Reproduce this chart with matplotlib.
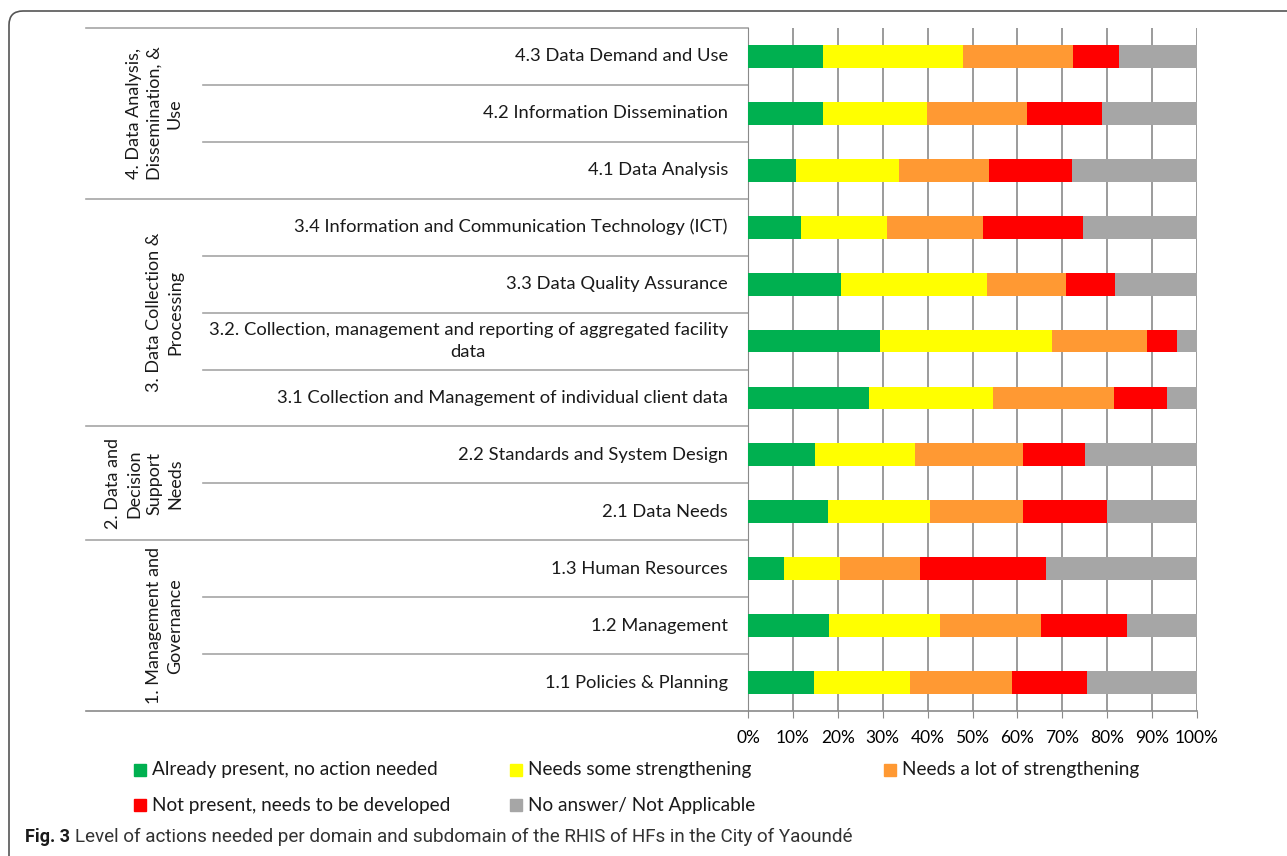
import matplotlib
matplotlib.use('Agg')
import matplotlib.pyplot as plt
import matplotlib.transforms as mtransforms
from matplotlib.patches import FancyBboxPatch, Rectangle
import numpy as np

plt.rcParams['font.family'] = ['Lato', 'DejaVu Sans']

# Subdomains listed from bottom to top
subdomains = [
    '1.1 Policies & Planning',
    '1.2 Management',
    '1.3 Human Resources',
    '2.1 Data Needs',
    '2.2 Standards and System Design',
    '3.1 Collection and Management of individual client data',
    '3.2. Collection, management and reporting of aggregated facility\ndata',
    '3.3 Data Quality Assurance',
    '3.4 Information and Communication Technology (ICT)',
    '4.1 Data Analysis',
    '4.2 Information Dissemination',
    '4.3 Data Demand and Use',
]
domains = [
    '1. Management and\nGovernance',
    '2. Data and\nDecision\nSupport\nNeeds',
    '3. Data Collection &\nProcessing',
    '4. Data Analysis,\nDissemination, &\nUse',
]
domain_sizes = [3, 2, 4, 3]

already_present = [14.7, 18.1, 8.1, 17.9, 14.9, 26.9, 29.5, 20.7, 11.7, 10.6, 16.6, 16.7]
some_strengthening = [21.4, 24.6, 12.5, 22.6, 22.2, 27.6, 38.1, 32.5, 19.2, 23.1, 23.3, 31.1]
lot_strengthening = [22.7, 22.6, 17.7, 20.7, 24.2, 27.1, 21.3, 17.7, 21.4, 19.9, 22.2, 24.5]
not_present = [16.7, 19.2, 28.1, 18.7, 13.7, 11.7, 6.7, 10.8, 22.3, 18.5, 16.7, 10.3]
no_answer = [24.5, 15.5, 33.6, 20.1, 25.0, 6.7, 4.4, 18.3, 25.4, 27.9, 21.2, 17.4]

series = [already_present, some_strengthening, lot_strengthening, not_present, no_answer]
series_names = ['Already present, no action needed', 'Needs some strengthening',
                'Needs a lot of strengthening', 'Not present, needs to be developed',
                'No answer/ Not Applicable']
colors = ['#00B050', '#FFFF00', '#FF9933', '#FF0000', '#A6A6A6']

W, H = 1287, 856
fig = plt.figure(figsize=(W / 100, H / 100), dpi=100)
ax = fig.add_axes([748 / W, (H - 711) / H, 449 / W, 683 / H])

y = np.arange(len(subdomains))
left = np.zeros(len(subdomains))
for vals, c in zip(series, colors):
    ax.barh(y, vals, left=left, height=0.4, color=c, zorder=3)
    left += np.array(vals)

ax.set_xlim(0, 100)
ax.set_ylim(-0.5, len(subdomains) - 0.5)
ax.set_xticks(np.arange(0, 101, 10))
ax.set_xticklabels([f'{v}%' for v in range(0, 101, 10)], fontsize=12.5)
ax.set_yticks([])
ax.grid(axis='x', color='#8a8a8a', linewidth=1.2, zorder=0)
ax.tick_params(axis='x', length=5, color='#8a8a8a', pad=9)
for s in ['top', 'right']:
    ax.spines[s].set_visible(False)
ax.spines['left'].set_color('#8a8a8a')
ax.spines['bottom'].set_visible(False)

blend = mtransforms.blended_transform_factory(fig.transFigure, ax.transData)

# bottom axis line extends under label area
ax.plot([86 / W, 1197 / W], [-0.5, -0.5], transform=blend, color='#8a8a8a',
        linewidth=1.2, clip_on=False, zorder=4)

# subdomain labels
for i, lab in enumerate(subdomains):
    ax.text(728 / W, i, lab, transform=blend, ha='right', va='center',
            multialignment='center', fontsize=13.2, color='#1a1a1a', linespacing=1.45)

# separators and domain labels
bounds = np.cumsum([0] + domain_sizes) - 0.5
for k in range(1, len(subdomains) + 1):
    yb = k - 0.5
    x0 = 86 / W if yb in bounds else 203 / W
    ax.plot([x0, 748 / W], [yb, yb], transform=blend, color='#a6a6a6',
            linewidth=1.2, clip_on=False)

for d, lab in enumerate(domains):
    yc = (bounds[d] + bounds[d + 1]) / 2
    ax.text(183 / W, yc, lab, transform=blend, rotation=90, ha='right', va='center',
            multialignment='center', fontsize=13, color='#1a1a1a', linespacing=1.35)

# legend
legend_pos = [(134, 770), (510, 770), (884, 770), (134, 805), (510, 805)]
for (px, py), name, c in zip(legend_pos, series_names, colors):
    fig.patches.append(Rectangle((px / W, (H - py - 6) / H), 12 / W, 12 / H,
                                 transform=fig.transFigure, color=c))
    fig.text((px + 18) / W, (H - py) / H, name, ha='left', va='center',
             fontsize=13.7, color='#1a1a1a')

# caption
fig.text(25 / W, (H - 837) / H, 'Fig. 3', ha='left', va='center', fontsize=13,
         fontweight='bold', family='Roboto', color='#1a1a1a')
fig.text(75 / W, (H - 837) / H,
         'Level of actions needed per domain and subdomain of the RHIS of HFs in the City of Yaoundé',
         ha='left', va='center', fontsize=13.6, family='Roboto', color='#333333')

# outer rounded frame
frame = FancyBboxPatch((9, -30), 1320, H - 11 + 30, boxstyle='round,pad=0,rounding_size=14',
                       transform=mtransforms.IdentityTransform(), facecolor='none',
                       edgecolor='#555555', linewidth=1.2)
fig.patches.append(frame)

fig.savefig('out.png', dpi=100)
